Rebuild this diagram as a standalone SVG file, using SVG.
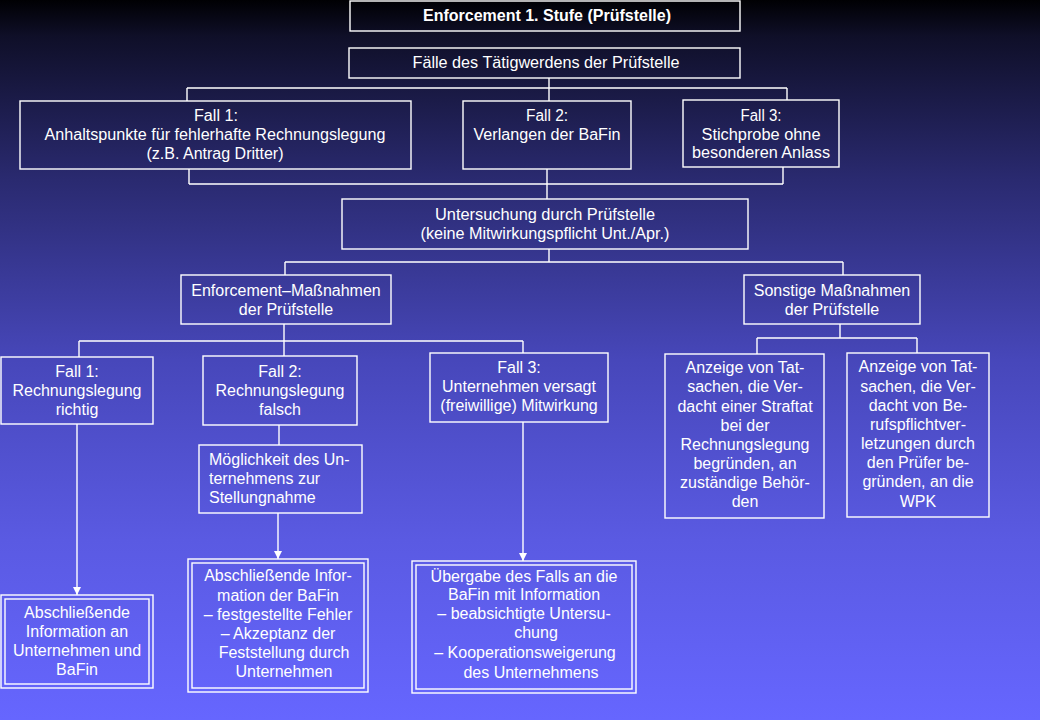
<svg xmlns="http://www.w3.org/2000/svg" width="1040" height="720" viewBox="0 0 1040 720">
<defs>
<linearGradient id="bg" x1="0" y1="0" x2="0" y2="1">
<stop offset="0" stop-color="#000003"/>
<stop offset="0.05" stop-color="#0f0f28"/>
<stop offset="0.25" stop-color="#2a2a70"/>
<stop offset="0.5" stop-color="#4747ba"/>
<stop offset="0.75" stop-color="#5a5ae2"/>
<stop offset="1" stop-color="#6666ff"/>
</linearGradient>
<marker id="arr" viewBox="0 0 10 10" refX="10" refY="5" markerWidth="8" markerHeight="8" markerUnits="userSpaceOnUse" orient="auto">
<path d="M0,0 L10,5 L0,10 z" fill="#ffffff"/>
</marker>
<style>
.b{fill:none;stroke:#ffffff;stroke-width:1.4}
.c{fill:none;stroke:#ffffff;stroke-width:1.4}
text{font-family:"Liberation Sans",Arial,sans-serif;font-size:16px;fill:#ffffff;text-anchor:middle}
.l{text-anchor:start}
.t{font-weight:bold}
</style>
</defs>
<rect x="0" y="0" width="1040" height="720" fill="url(#bg)"/>

<g id="connectors">
<path class="c" d="M549,78 V88 M187,88 H787 M187,88 V101 M549,88 V101 M787,88 V100"/>
<path class="c" d="M189,169 V184 M547,169 V184 M783,167 V184 M189,184 H783 M547,184 V199"/>
<path class="c" d="M549,249 V262 M285,262 H843 M285,262 V275 M843,262 V275"/>
<path class="c" d="M284,324 V341 M79,341 H523 M79,341 V357 M284,341 V356 M523,341 V353"/>
<path class="c" d="M840,324 V338 M757,338 H917 M757,338 V354 M917,338 V353"/>
<path class="c" d="M279,425 V445"/>
<path class="c" d="M77,424 V595" marker-end="url(#arr)"/>
<path class="c" d="M278,513 V559" marker-end="url(#arr)"/>
<path class="c" d="M523,422 V561" marker-end="url(#arr)"/>
</g>

<g id="n_title">
<rect class="b" x="350" y="1" width="390" height="30"/>
<text class="t" x="547" y="21" textLength="248" lengthAdjust="spacingAndGlyphs">Enforcement 1. Stufe (Prüfstelle)</text>
</g>
<g id="n_faelle">
<rect class="b" x="349" y="48" width="391" height="30"/>
<text x="546" y="68" textLength="267" lengthAdjust="spacingAndGlyphs">Fälle des Tätigwerdens der Prüfstelle</text>
</g>
<g id="n_fall1top">
<rect class="b" x="20" y="101" width="391" height="68"/>
<text x="216" y="121" textLength="44" lengthAdjust="spacingAndGlyphs">Fall 1:</text>
<text x="215" y="140" textLength="341" lengthAdjust="spacingAndGlyphs">Anhaltspunkte für fehlerhafte Rechnungslegung</text>
<text x="215" y="159" textLength="137" lengthAdjust="spacingAndGlyphs">(z.B. Antrag Dritter)</text>
</g>
<g id="n_fall2top">
<rect class="b" x="463" y="101" width="168" height="68"/>
<text x="547" y="121" textLength="42" lengthAdjust="spacingAndGlyphs">Fall 2:</text>
<text x="547" y="140" textLength="147" lengthAdjust="spacingAndGlyphs">Verlangen der BaFin</text>
</g>
<g id="n_fall3top">
<rect class="b" x="683" y="100" width="156" height="67"/>
<text x="761" y="121" textLength="41" lengthAdjust="spacingAndGlyphs">Fall 3:</text>
<text x="761" y="140" textLength="119" lengthAdjust="spacingAndGlyphs">Stichprobe ohne</text>
<text x="761" y="158" textLength="138" lengthAdjust="spacingAndGlyphs">besonderen Anlass</text>
</g>
<g id="n_untersuchung">
<rect class="b" x="342" y="199" width="406" height="50"/>
<text x="545" y="220" textLength="220" lengthAdjust="spacingAndGlyphs">Untersuchung durch Prüfstelle</text>
<text x="545" y="239" textLength="249" lengthAdjust="spacingAndGlyphs">(keine Mitwirkungspflicht Unt./Apr.)</text>
</g>
<g id="n_enf">
<rect class="b" x="181" y="275" width="210" height="49"/>
<text x="286" y="296">Enforcement–Maßnahmen</text>
<text x="286" y="315">der Prüfstelle</text>
</g>
<g id="n_sonst">
<rect class="b" x="744" y="275" width="176" height="49"/>
<text x="832" y="296">Sonstige Maßnahmen</text>
<text x="832" y="315">der Prüfstelle</text>
</g>
<g id="n_f1">
<rect class="b" x="1" y="357" width="152" height="67"/>
<text x="77" y="377">Fall 1:</text>
<text x="77" y="396">Rechnungslegung</text>
<text x="77" y="415">richtig</text>
</g>
<g id="n_f2">
<rect class="b" x="203" y="356" width="154" height="69"/>
<text x="280" y="377">Fall 2:</text>
<text x="280" y="396">Rechnungslegung</text>
<text x="280" y="415">falsch</text>
</g>
<g id="n_f3">
<rect class="b" x="430" y="353" width="178" height="69"/>
<text x="519" y="373">Fall 3:</text>
<text x="519" y="392">Unternehmen versagt</text>
<text x="519" y="411">(freiwillige) Mitwirkung</text>
</g>
<g id="n_anz1">
<rect class="b" x="665" y="354" width="159" height="164"/>
<text x="745" y="373">Anzeige von Tat-</text>
<text x="745" y="392">sachen, die Ver-</text>
<text x="745" y="412">dacht einer Straftat</text>
<text x="745" y="431">bei der</text>
<text x="745" y="450">Rechnungslegung</text>
<text x="745" y="469">begründen, an</text>
<text x="745" y="488">zuständige Behör-</text>
<text x="745" y="507">den</text>
</g>
<g id="n_anz2">
<rect class="b" x="847" y="353" width="142" height="164"/>
<text x="918" y="372">Anzeige von Tat-</text>
<text x="918" y="392">sachen, die Ver-</text>
<text x="918" y="411">dacht von Be-</text>
<text x="918" y="430">rufspflichtver-</text>
<text x="918" y="449">letzungen durch</text>
<text x="918" y="468">den Prüfer be-</text>
<text x="918" y="487">gründen, an die</text>
<text x="918" y="507">WPK</text>
</g>
<g id="n_moegl">
<rect class="b" x="199" y="445" width="163" height="68"/>
<text class="l" x="209" y="465">Möglichkeit des Un-</text>
<text class="l" x="209" y="484">ternehmens zur</text>
<text class="l" x="209" y="503">Stellungnahme</text>
</g>
<g id="n_absch1">
<rect class="b" x="1" y="595" width="152" height="93"/>
<rect class="b" x="5" y="599" width="144" height="85"/>
<text x="77" y="618">Abschließende</text>
<text x="77" y="637">Information an</text>
<text x="77" y="656">Unternehmen und</text>
<text x="77" y="675">BaFin</text>
</g>
<g id="n_absch2">
<rect class="b" x="188" y="559" width="180" height="133"/>
<rect class="b" x="192" y="563" width="172" height="125"/>
<text x="278" y="581">Abschließende Infor-</text>
<text x="278" y="601">mation der BaFin</text>
<text x="278" y="620">– festgestellte Fehler</text>
<text x="278" y="639">– Akzeptanz der</text>
<text x="284" y="658">Feststellung durch</text>
<text x="284" y="677">Unternehmen</text>
</g>
<g id="n_uebergabe">
<rect class="b" x="412" y="561" width="224" height="132"/>
<rect class="b" x="416" y="565" width="216" height="124"/>
<text x="524" y="582">Übergabe des Falls an die</text>
<text x="524" y="600">BaFin mit Information</text>
<text x="524" y="619">– beabsichtigte Untersu-</text>
<text x="536" y="638">chung</text>
<text x="525" y="658">– Kooperationsweigerung</text>
<text x="531" y="678">des Unternehmens</text>
</g>
</svg>
